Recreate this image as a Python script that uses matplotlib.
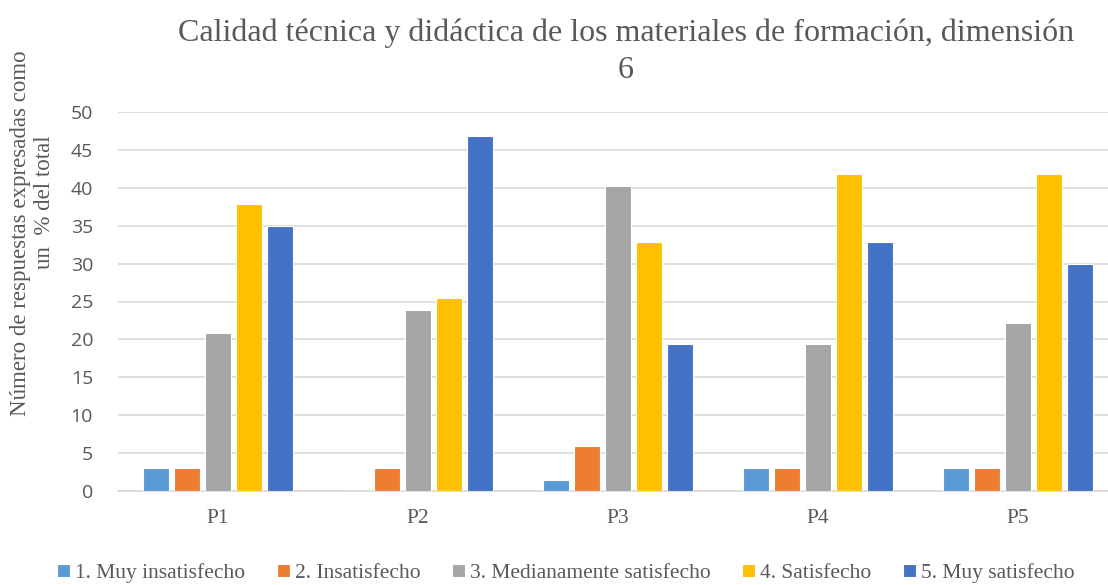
import matplotlib
matplotlib.use("Agg")
import matplotlib.pyplot as plt
import numpy as np

categories = ["P1", "P2", "P3", "P4", "P5"]
series_names = ["1. Muy insatisfecho", "2. Insatisfecho", "3. Medianamente satisfecho",
                "4. Satisfecho", "5. Muy satisfecho"]
muy_insatisfecho = [3.0, 0.0, 1.5, 3.0, 3.0]
insatisfecho = [3.0, 3.0, 6.0, 3.0, 3.0]
medianamente = [20.9, 23.9, 40.3, 19.4, 22.2]
satisfecho = [37.9, 25.4, 32.8, 41.8, 41.8]
muy_satisfecho = [35.0, 46.8, 19.4, 32.8, 30.0]
series_values = [muy_insatisfecho, insatisfecho, medianamente, satisfecho, muy_satisfecho]
colors = ["#5B9BD5", "#ED7D31", "#A5A5A5", "#FFC000", "#4472C4"]
yticks = [0, 5, 10, 15, 20, 25, 30, 35, 40, 45, 50]

W, H = 1108, 585
fig = plt.figure(figsize=(W / 100, H / 100), dpi=100)
ax = fig.add_axes([118 / W, (H - 491) / H, 1000 / W, (491 - 112) / H])

serif = "Liberation Serif"
grey = "#595959"
x = np.arange(len(categories))
pitch = 0.155
width = 0.128
for i, (name, vals, c) in enumerate(zip(series_names, series_values, colors)):
    ax.bar(x + (i - 2) * pitch, vals, width=width, color=c, label=name,
           edgecolor="white", linewidth=0.8, zorder=3)

ax.set_xlim(-0.5, 4.5)
ax.set_ylim(0, 50)
ax.set_yticks(yticks)
ax.set_xticks(x)
ax.set_xticklabels(categories, fontfamily=serif, fontsize=15.5, color=grey)
for lab in ax.get_yticklabels():
    lab.set_fontfamily("Open Sans")
    lab.set_fontsize(14)
    lab.set_color(grey)
ax.tick_params(axis="x", length=0, pad=13)
ax.tick_params(axis="y", length=0, pad=18)
ax.grid(axis="y", color="#D9D9D9", linewidth=1.2, zorder=0)
for s in ["top", "right", "left"]:
    ax.spines[s].set_visible(False)
ax.spines["bottom"].set_color("#D9D9D9")
ax.spines["bottom"].set_linewidth(1.2)

fig.text(626 / W, 1 - 33 / H, "Calidad técnica y didáctica de los materiales de formación, dimensión",
         ha="center", va="center", fontfamily=serif, fontsize=23, color=grey)
fig.text(626 / W, 1 - 71 / H, "6", ha="center", va="center", fontfamily=serif,
         fontsize=23, color=grey)

fig.text(21 / W, 1 - 233 / H, "Número de respuestas expresadas como", rotation=90,
         ha="center", va="center", fontfamily=serif, fontsize=16.5, color=grey)
fig.text(45 / W, 1 - 202 / H, "un  % del total", rotation=90,
         ha="center", va="center", fontfamily=serif, fontsize=16.5, color=grey)

leg = fig.legend(loc="center", bbox_to_anchor=(566 / W, 1 - 573 / H), ncol=5, frameon=False,
                 prop={"family": serif, "size": 15.5}, handlelength=0.6, handleheight=0.6,
                 handletextpad=0.25, columnspacing=1.45, borderaxespad=0)
for t in leg.get_texts():
    t.set_color(grey)

fig.savefig("out.png", dpi=100)
